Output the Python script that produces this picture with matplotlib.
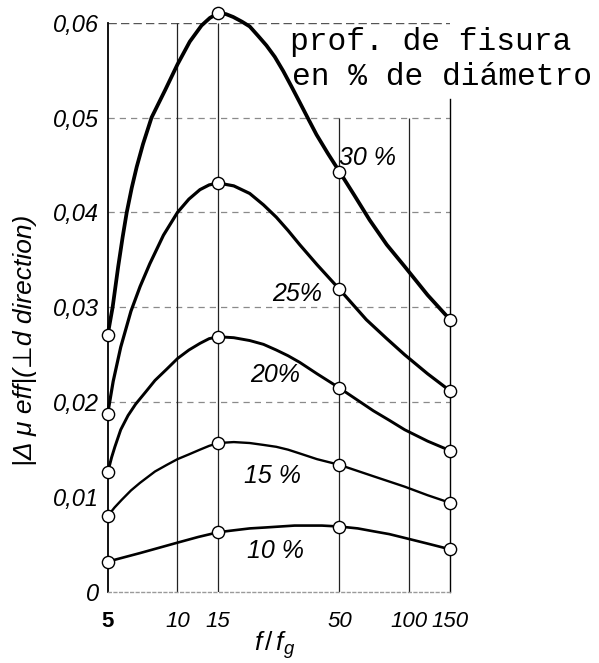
import matplotlib.pyplot as plt
from matplotlib.ticker import NullLocator

plt.rcParams['font.family'] = ['Liberation Sans', 'DejaVu Sans']
plt.rcParams['mathtext.fontset'] = 'custom'
plt.rcParams['mathtext.it'] = 'Liberation Sans:italic'
plt.rcParams['mathtext.rm'] = 'Liberation Sans'

# measured points (f/fg) and |delta mu eff| for each crack depth
meas_x = [5, 15, 50, 150]
meas_30 = [0.0271, 0.0610, 0.0443, 0.0287]
meas_25 = [0.0188, 0.0431, 0.0319, 0.0212]
meas_20 = [0.0126, 0.0269, 0.0215, 0.0149]
meas_15 = [0.0080, 0.0157, 0.0134, 0.0094]
meas_10 = [0.0032, 0.0063, 0.0069, 0.0045]

# curves
tx_30 = [5, 5.25, 5.55, 5.8, 6.04, 6.35, 6.67, 7.1, 7.73, 8.85, 10, 11.3, 12.7, 13.8, 15,
         16.2, 17.4, 19, 20.5, 22.3, 24.2, 26.3, 28.6, 31, 33.7, 36.6, 39.8, 44.6, 50,
         58, 67.5, 80, 95.6, 120, 150]
ty_30 = [0.0271, 0.0300, 0.0343, 0.0374, 0.0400, 0.0426, 0.0448, 0.0472, 0.0500, 0.0529, 0.0556,
         0.0580, 0.0597, 0.0605, 0.0610, 0.0609, 0.0606, 0.0601, 0.0596, 0.0586, 0.0576, 0.0564,
         0.0549, 0.0533, 0.0516, 0.0499, 0.0482, 0.0462, 0.0443, 0.0418, 0.0392, 0.0366, 0.0343,
         0.0313, 0.0287]
tx_25 = [5, 5.28, 5.69, 6.30, 6.9, 7.6, 8.7, 10, 11.2, 12.5, 13.7, 15, 17.5, 20.5, 23.5,
         26.7, 30, 33.7, 40, 50, 65.3, 80, 95.6, 120, 150]
ty_25 = [0.0188, 0.0222, 0.0258, 0.0296, 0.0322, 0.0346, 0.0376, 0.0400, 0.0414, 0.0424, 0.0429,
         0.0431, 0.0428, 0.0420, 0.0408, 0.0395, 0.0381, 0.0366, 0.0345, 0.0319, 0.0287, 0.0267,
         0.0250, 0.0230, 0.0212]
tx_20 = [5, 5.2, 5.37, 5.69, 6.12, 6.6, 7.3, 8.0, 9, 10, 11.2, 12.5, 13.7, 15, 17.5, 20.5,
         23.5, 26.7, 30, 33.7, 40, 50, 60, 70, 82, 95.6, 120, 150]
ty_20 = [0.0126, 0.0142, 0.0153, 0.0171, 0.0186, 0.0198, 0.0211, 0.0223, 0.0235, 0.0246, 0.0255,
         0.0262, 0.0267, 0.0269, 0.0268, 0.0265, 0.0261, 0.0255, 0.0249, 0.0242, 0.0230, 0.0215,
         0.0202, 0.0191, 0.0181, 0.0171, 0.0159, 0.0149]
tx_15 = [5, 5.35, 5.74, 6.3, 6.89, 8, 9, 10, 11.2, 12.5, 13.7, 15, 17.5, 20.5, 23.5, 26.7,
         30, 33.7, 40, 50, 70, 95.6, 120, 150]
ty_15 = [0.0080, 0.0089, 0.0097, 0.0107, 0.0115, 0.0127, 0.0134, 0.0140, 0.0145, 0.0150, 0.0154,
         0.0157, 0.0158, 0.0157, 0.0155, 0.0153, 0.0150, 0.0146, 0.0140, 0.0134, 0.0122, 0.0111,
         0.0102, 0.0094]
tx_10 = [5, 6.89, 10, 12.3, 15, 17.5, 20.5, 24, 27.7, 32, 36, 42, 50, 60, 70, 82, 95.6, 120, 150]
ty_10 = [0.0032, 0.0041, 0.0052, 0.0058, 0.0063, 0.0065, 0.0067, 0.0068, 0.0069, 0.0070, 0.0070,
         0.0070, 0.0069, 0.0067, 0.0064, 0.0061, 0.0057, 0.0051, 0.0045]

x_ticks = [5, 10, 15, 50, 100, 150]
x_labels = ['5', '10', '15', '50', '100', '150']
y_ticks = [0, 0.01, 0.02, 0.03, 0.04, 0.05, 0.06]
y_labels = ['0', '0,01', '0,02', '0,03', '0,04', '0,05', '0,06']

curve_labels = ['30 %', '25%', '20%', '15 %', '10 %']
label_pos = [(66, 0.0457), (33.0, 0.0314), (26.3, 0.0229), (25.8, 0.0122), (26.6, 0.0043)]

fig = plt.figure(figsize=(5.99, 6.63), dpi=100)
ax = fig.add_axes([0.1798, 0.1071, 0.5715, 0.8587])
ax.set_xscale('log')
ax.set_xlim(5, 150)
ax.set_ylim(0, 0.06)

# grid, drawn by hand like the original sheet
for yv in [0.02, 0.03, 0.04, 0.05]:
    ax.axhline(yv, color='#8a8a8a', lw=0.9, ls=(0, (5, 4)), zorder=1)
ax.axhline(0.06, color='#555555', lw=1.0, ls=(0, (6, 3)), zorder=1)
ax.vlines([10, 15], 0, 0.06, color='#222222', lw=0.9, zorder=1)
ax.vlines([50, 100], 0, 0.05, color='#222222', lw=0.9, zorder=1)

ax.spines['top'].set_visible(False)
ax.spines['left'].set_linewidth(1.3)
ax.spines['right'].set_linewidth(1.0)
ax.spines['right'].set_bounds(0, 0.052)
ax.spines['bottom'].set_color('#9a9a9a')
ax.spines['bottom'].set_linestyle((0, (2, 2)))
ax.spines['bottom'].set_linewidth(1.0)

traces = [(tx_30, ty_30, 2.7), (tx_25, ty_25, 2.3), (tx_20, ty_20, 2.1),
          (tx_15, ty_15, 1.7), (tx_10, ty_10, 1.9)]
for tx, ty, lw in traces:
    ax.plot(tx, ty, color='black', lw=lw, zorder=3, clip_on=False,
            solid_capstyle='round', solid_joinstyle='round')
for my in [meas_30, meas_25, meas_20, meas_15, meas_10]:
    ax.plot(meas_x, my, ls='none', marker='o', ms=8.8, mfc='white',
            mec='black', mew=1.0, zorder=4, clip_on=False)

for txt, (px, py) in zip(curve_labels, label_pos):
    ax.text(px, py, txt, fontsize=18, style='italic', ha='center', va='center',
            zorder=5)

ax.xaxis.set_minor_locator(NullLocator())
ax.set_xticks(x_ticks)
ax.set_xticklabels(x_labels)
ax.set_yticks(y_ticks)
ax.set_yticklabels(y_labels)
ax.tick_params(axis='both', length=0)
ax.tick_params(axis='x', pad=14, labelsize=16)
ax.tick_params(axis='y', pad=6.5, labelsize=17)
for lab in ax.get_xticklabels() + ax.get_yticklabels():
    lab.set_style('italic')
ax.get_xticklabels()[0].set_style('normal')
ax.get_xticklabels()[0].set_fontweight('bold')

fig.text(275 / 599, 1 - 645 / 663, r'$f\,/\,f_g$', fontsize=19,
         ha='center', va='center')
fig.text(25 / 599, 1 - 340 / 663, '|Δ μ eff|(⊥d direction)', fontsize=19,
         style='italic', rotation=90, ha='center', va='center')

fig.text(290 / 599, 1 - 50 / 663, 'prof. de fisura', fontsize=22.5,
         family='Liberation Mono', ha='left', va='baseline')
fig.text(292 / 599, 1 - 85 / 663, 'en % de diámetro', fontsize=22.5,
         family='Liberation Mono', ha='left', va='baseline')

fig.savefig('out.png', dpi=100)
